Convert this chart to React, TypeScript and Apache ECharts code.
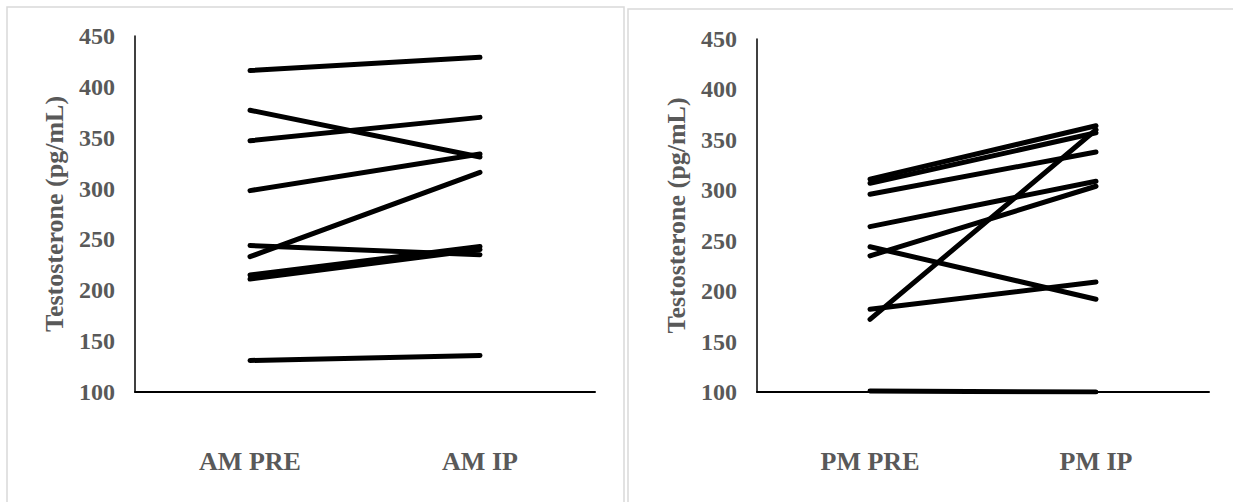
import React, { useEffect, useRef } from "react";
import * as echarts from "echarts";

const amCategories = ["AM PRE", "AM IP"];
const pmCategories = ["PM PRE", "PM IP"];
const yTicks = { min: 100, max: 450, interval: 50 };
const axisTitle = "Testosterone (pg/mL)";

const amPre = [416, 377, 347, 298, 233, 244, 215, 211, 131];
const amIp = [429, 331, 370, 334, 316, 235, 243, 240, 136];
const pmPre = [311, 307, 296, 264, 235, 244, 182, 172, 101];
const pmIp = [364, 357, 338, 309, 304, 192, 209, 360, 100];

const FONT = "'Liberation Serif', 'Times New Roman', serif";
const GRAY = "#595959";

export default function App() {
  const ref = useRef<HTMLDivElement>(null);
  useEffect(() => {
    if (!ref.current) return;
    const chart = echarts.init(ref.current, null, { renderer: "svg" });
    const makeY = (gridIndex: number) => ({
      type: "value",
      gridIndex,
      min: yTicks.min,
      max: yTicks.max,
      interval: yTicks.interval,
      name: axisTitle,
      nameLocation: "middle",
      nameGap: 68,
      nameTextStyle: { fontFamily: FONT, fontWeight: "bold", fontSize: 26, color: GRAY },
      axisLine: { show: true, lineStyle: { color: "#000", width: 1.5 } },
      axisTick: { show: false },
      splitLine: { show: false },
      axisLabel: { fontFamily: FONT, fontWeight: "bold", fontSize: 24, color: GRAY, margin: 20 },
    });
    const makeX = (gridIndex: number, data: string[]) => ({
      type: "category",
      gridIndex,
      data,
      boundaryGap: true,
      axisLine: { show: true, lineStyle: { color: "#000", width: 2 } },
      axisTick: { show: false },
      axisLabel: { fontFamily: FONT, fontWeight: "bold", fontSize: 26, color: GRAY, margin: 56 },
    });
    const lineSeries = (pre: number[], ip: number[], idx: number) =>
      pre.map((p, i) => ({
        type: "line",
        xAxisIndex: idx,
        yAxisIndex: idx,
        data: [p, ip[i]],
        symbol: "none",
        lineStyle: { color: "#000", width: 5, cap: "round" },
        silent: true,
      }));
    chart.setOption({
      animation: false,
      backgroundColor: "#fff",
      grid: [
        { left: 135, top: 36, width: 460, height: 356 },
        { left: 757, top: 39, width: 452, height: 353 },
      ],
      xAxis: [makeX(0, amCategories), makeX(1, pmCategories)],
      yAxis: [makeY(0), makeY(1)],
      series: [...lineSeries(amPre, amIp, 0), ...lineSeries(pmPre, pmIp, 1)],
      graphic: [
        { type: "rect", shape: { x: 7, y: 7, width: 617, height: 520 }, style: { fill: "none", stroke: "#d9d9d9", lineWidth: 1.5 }, silent: true },
        { type: "rect", shape: { x: 628, y: 9, width: 620, height: 520 }, style: { fill: "none", stroke: "#d9d9d9", lineWidth: 1.5 }, silent: true },
      ],
    });
    return () => chart.dispose();
  }, []);
  return (
    <div
      ref={ref}
      style={{ position: "fixed", left: 0, top: 0, width: 1233, height: 502 }}
    />
  );
}
